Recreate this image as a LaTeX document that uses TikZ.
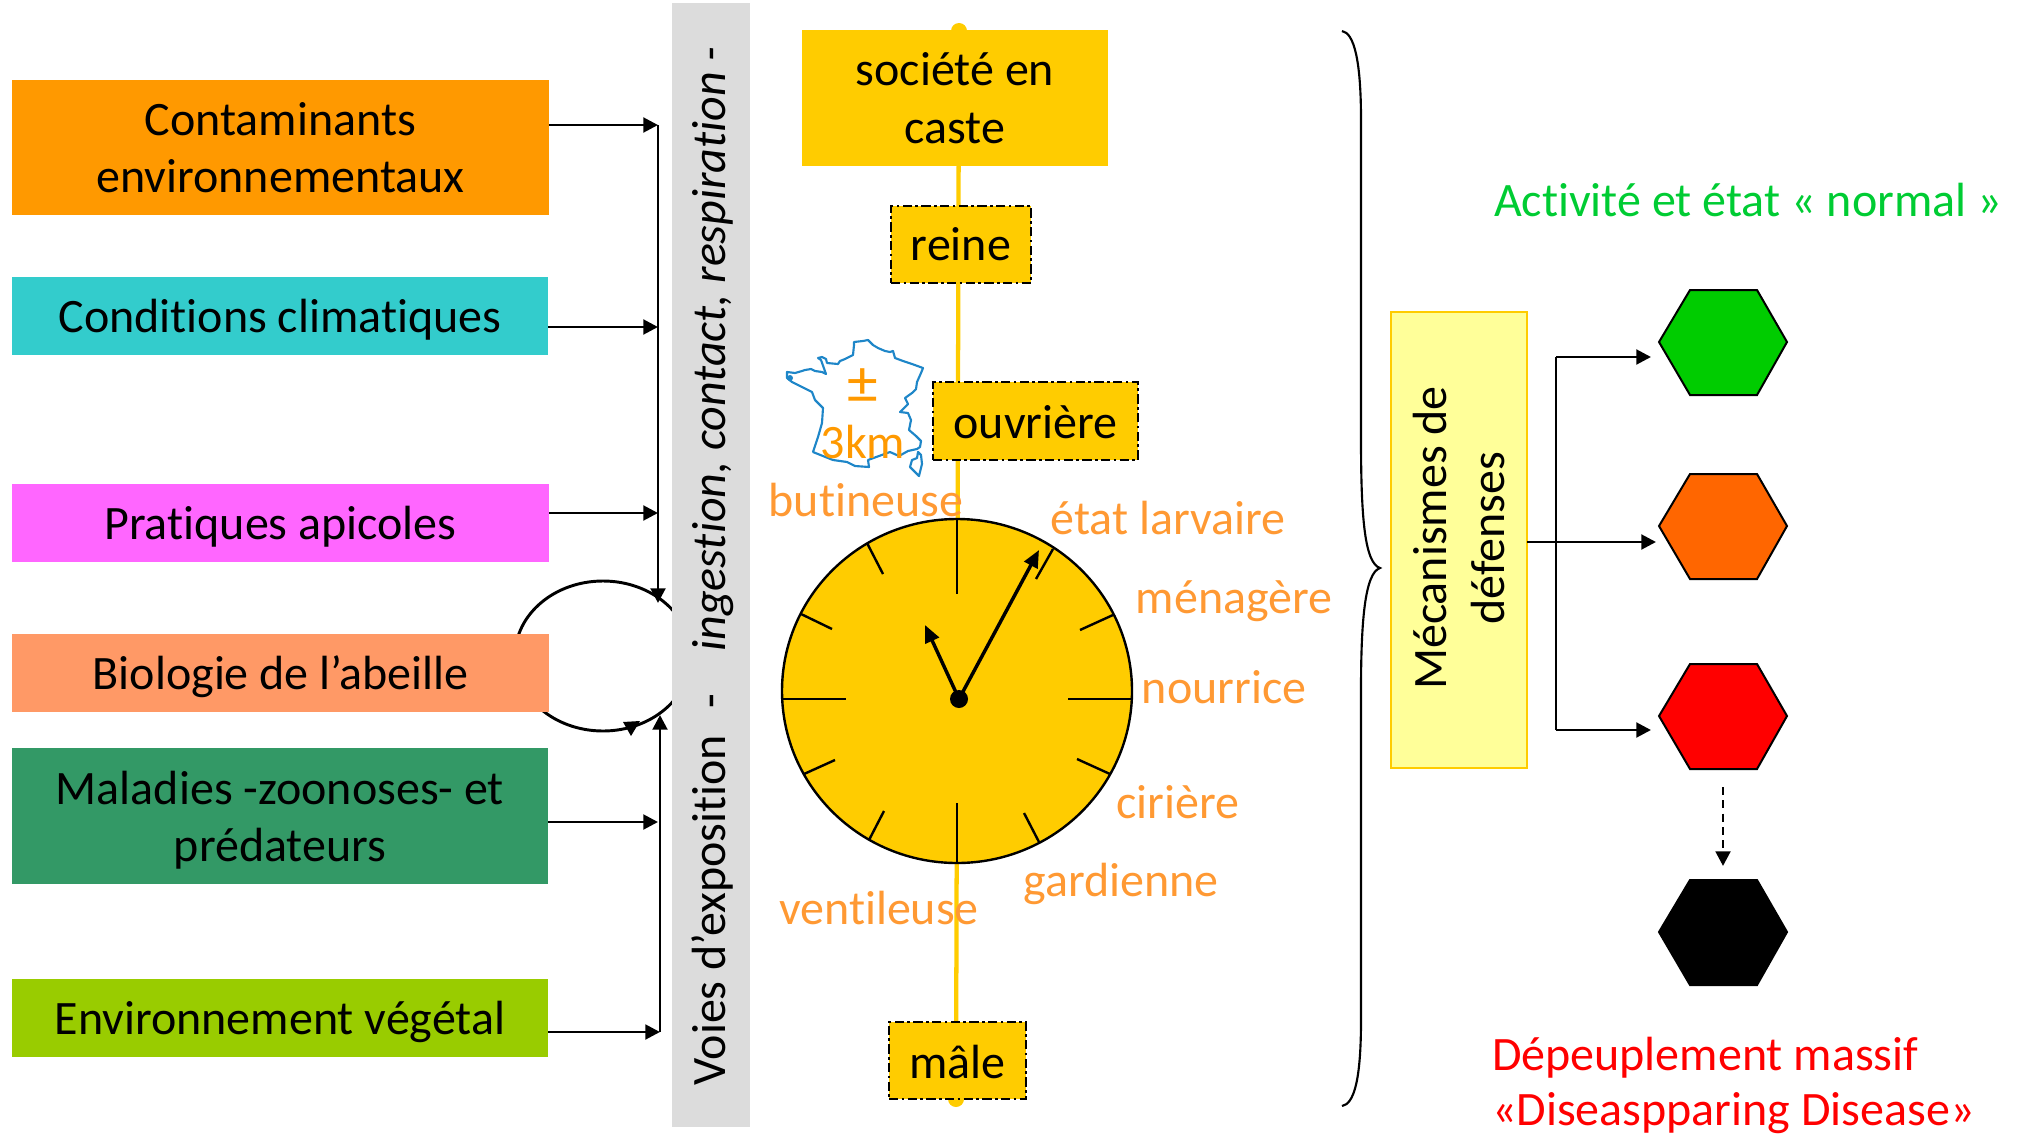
\documentclass[tikz,border=0pt]{standalone}
\usepackage{fontspec}
\setmainfont{Carlito}[RawFeature={-liga;-clig;-dlig}]
\usetikzlibrary{arrows.meta,shapes.geometric}
\definecolor{cOrange}{HTML}{FF9900}
\definecolor{cTeal}{HTML}{33CCCC}
\definecolor{cPink}{HTML}{FF66FF}
\definecolor{cSalmon}{HTML}{FF9966}
\definecolor{cSea}{HTML}{339966}
\definecolor{cLime}{HTML}{99CC00}
\definecolor{cGrey}{HTML}{DCDCDC}
\definecolor{cGold}{HTML}{FFCC00}
\definecolor{cPale}{HTML}{FFFF99}
\definecolor{cLabel}{HTML}{FF9933}
\definecolor{cMap}{HTML}{1E86C8}
\definecolor{cGreenT}{HTML}{00CC33}
\definecolor{cGreenH}{HTML}{00CC00}
\definecolor{cOrangeH}{HTML}{FF6600}
\newcommand{\pxbox}[7]{\node[#2,minimum width={(#5-#3)*0.75pt},minimum height={(#6-#4)*0.75pt}] (#1) at ({(#3+#5)/2},{(#4+#6)/2}) {#7};}
\newcommand{\hexa}[6]{\fill[#2,draw=black,line width=1.5pt,line join=miter] (1659,#4) -- (1690,#3) -- (1757,#3) -- (1787,#4) -- (1757,#5) -- (1690,#5) -- cycle; \coordinate (#1) at (1723,#4);}
\newcommand{\lowstrut}{\rule[-8pt]{0pt}{41pt}}
\newcommand{\smallstrut}{\rule{0pt}{27pt}}
\tikzset{
  x=0.75pt,y=-0.75pt,
  base/.style={font=\fontsize{36}{43}\selectfont,align=center,inner sep=0pt,outer sep=0pt},
  factor/.style={base,text=black},
  castebox/.style={base,fill=cGold},
  dashbox/.style={base,fill=cGold,draw=black,line width=1.6pt,dash pattern=on 7pt off 2.5pt on 2pt off 2.5pt},
  lab/.style={base,text=cLabel},
  arr/.style={line width=2.2pt,-{Triangle[length=11pt,width=11pt]}},
  thinline/.style={line width=2.2pt},
  tick/.style={line width=1.8pt,black},
  hand/.style={line width=2.6pt,-{Triangle[length=13pt,width=11pt]}},
}
\begin{document}
\begin{tikzpicture}
\useasboundingbox (0,0) rectangle (2023,1135);
% feedback ellipse
\draw[line width=2.2pt] (603,656) ellipse [x radius=88,y radius=75];
\fill (623,722) -- (640,721) -- (631,736) -- cycle;
% grey bar
\pxbox{bar}{base,fill=cGrey}{672}{3}{750}{1127}{}
\node[base,rotate=90] (barlabel) at (713,566) {Voies d’exposition\hspace{0.55em}-\hspace{0.88em}{\itshape ingestion, contact, respiration -}};
% left boxes
\pxbox{cont}{factor,fill=cOrange}{12}{80}{549}{215}{Contaminants\\environnementaux}
\pxbox{clim}{factor,fill=cTeal}{12}{277}{548}{355}{\lowstrut Conditions climatiques}
\pxbox{prat}{factor,fill=cPink}{12}{484}{549}{562}{\lowstrut Pratiques apicoles}
\pxbox{bio}{factor,fill=cSalmon}{12}{634}{549}{712}{\lowstrut Biologie de l’abeille}
\pxbox{mal}{factor,fill=cSea}{12}{748}{548}{884}{\rule{0pt}{31pt}Maladies -zoonoses- et\\prédateurs}
\pxbox{env}{factor,fill=cLime}{12}{979}{548}{1057}{\lowstrut Environnement végétal}
% collecting lines
\coordinate (topbus) at (658,125);
\coordinate (topend) at (658,603);
\coordinate (lowbus) at (660,1032);
\coordinate (lowend) at (660,715);
\draw[arr] (topbus) -- (topend);
\draw[arr] (lowbus) -- (lowend);
\draw[arr] (cont.east |- topbus) -- (topbus);
\coordinate (climbus) at (658,327);
\draw[arr] (clim.east |- climbus) -- (climbus);
\coordinate (pratbus) at (658,513);
\draw[arr] (prat.east |- pratbus) -- (pratbus);
\coordinate (malbus) at (658,822);
\draw[arr] (mal.east |- malbus) -- (malbus);
\draw[arr] (env.east |- lowbus) -- (lowbus);
% caste line
\coordinate (linetop) at (959,31);
\coordinate (linebot) at (956,1099);
\fill[cGold] (linetop) circle (8);
\fill[cGold] (linebot) circle (8);
\draw[cGold,line width=3.2pt] (linetop) -- (linebot);
\pxbox{soc}{castebox}{802}{30}{1108}{166}{société en\\caste}
\pxbox{rei}{dashbox}{891}{206}{1031}{283}{reine}
\pxbox{ouv}{dashbox}{933}{382}{1138}{460}{\smallstrut ouvrière}
\pxbox{mak}{dashbox}{889}{1022}{1026}{1099}{\smallstrut mâle}
% France
\draw[cMap,line width=1.6pt,line join=round]
 (787,372) -- (795,373) -- (802,371) -- (805,370) -- (811,369) -- (815,371) -- (822,372) -- (826,374) -- (821,360) -- (818,358) -- (822,357) -- (826,359) -- (827,363) -- (838,364) -- (840,361) -- (845,359) -- (853,355) -- (854,345) -- (854,342) -- (863,341) -- (868,340) -- (873,345) -- (878,348) -- (885,351) -- (890,352) -- (893,351) -- (895,358) -- (903,361) -- (912,364) -- (923,368) -- (921,373) -- (917,382) -- (916,389) -- (912,393) -- (905,398) -- (908,404) -- (900,412) -- (908,413) -- (911,420) -- (909,430) -- (916,436) -- (921,441) -- (920,447) -- (917,449) -- (908,451) -- (899,456) -- (890,452) -- (879,456) -- (868,460) -- (869,467) -- (855,466) -- (847,462) -- (833,460) -- (813,452) -- (818,437) -- (822,423) -- (823,408) -- (815,400) -- (812,392) -- (802,387) -- (792,382) -- (787,378) -- cycle;
\draw[cMap,line width=1.6pt,line join=round] (918,452) -- (921,455) -- (922,464) -- (919,476) -- (915,472) -- (910,467) -- (912,460) -- (917,458) -- cycle;
\fill[cMap] (790,378) circle (3);
% clock
\draw[fill=cGold,line width=1.8pt] (957,691) ellipse [x radius=175,y radius=172];
\coordinate (hub) at (959,699);
\coordinate (longtip) at (1039,550);
\coordinate (shorttip) at (925,625);
\draw[tick] (957,519) -- (957,594);
\draw[tick] (782,699) -- (846,699);
\draw[tick] (1068,699) -- (1132,699);
\draw[tick] (957,803) -- (957,863);
\draw[tick] (867,543) -- (883,574);
\draw[tick] (801,614) -- (832,629);
\draw[tick] (804,774) -- (835,760);
\draw[tick] (869,840) -- (884,811);
\draw[tick] (1039,842) -- (1024,813);
\draw[tick] (1110,774) -- (1077,759);
\draw[tick] (1113,615) -- (1080,630);
\draw[tick] (1053,549) -- (1036,579);
\draw[hand] (hub) -- (longtip);
\draw[hand] (hub) -- (shorttip);
\fill (hub) circle (9);
% labels
\node[base,font=\fontsize{46}{46}\selectfont,text=cOrange] (plusminus) at (863,386) {±};
\node[base,text=cOrange] (km) at (863,442) {3km};
\node[lab] (but) at (866,500) {butineuse};
\node[lab] (eta) at (1168,518) {état larvaire};
\node[lab] (men) at (1234,601) {ménagère};
\node[lab] (nou) at (1224,687) {nourrice};
\node[lab] (cir) at (1178,802) {cirière};
\node[lab] (gar) at (1121,884) {gardienne};
\node[lab] (ven) at (879,908) {ventileuse};
% brace
\coordinate (bracetop) at (1342,31);
\coordinate (bracebot) at (1342,1106);
\coordinate (bracetip) at (1380,568);
\draw[line width=1.6pt] (bracetop) .. controls (1354,33) and (1361,60) .. (1361,120) -- (1361,440) .. controls (1361,520) and (1365,563) .. (bracetip) .. controls (1365,573) and (1361,620) .. (1361,690) -- (1361,1020) .. controls (1361,1080) and (1354,1104) .. (bracebot);
% defence box
\pxbox{def}{base,fill=cPale,draw=cGold,line width=1.8pt}{1391}{312}{1527}{768}{}
\node[base,rotate=90] (deftext) at (1459,538) {Mécanismes de\\défenses};
% hexagons
\hexa{hg}{cGreenH}{290}{342}{395}{}
\hexa{ho}{cOrangeH}{474}{526}{579}{}
\hexa{hr}{red}{664}{716}{769}{}
\hexa{hb}{black}{880}{932}{985}{}
% arrows right
\coordinate (branchtop) at (1556,357);
\coordinate (branchbot) at (1556,730);
\coordinate (greentip) at (1651,357);
\coordinate (redtip) at (1651,730);
\coordinate (orangetip) at (1656,542);
\coordinate (defout) at (def.east |- orangetip);
\coordinate (dashstart) at (1723,787);
\coordinate (dashend) at (1723,866);
\draw[thinline] (branchbot) -- (branchtop);
\draw[arr] (branchtop) -- (greentip);
\draw[arr] (branchbot) -- (redtip);
\draw[arr] (defout) -- (orangetip);
\draw[line width=2.2pt,dash pattern=on 6pt off 4pt,-{Triangle[length=11pt,width=11pt]}] (dashstart) -- (dashend);
% status texts
\node[base,text=cGreenT,anchor=west] (normal) at (1494,200) {Activité et état « normal »};
\node[base,text=red,anchor=west] (dep1) at (1492,1058) {Dépeuplement massif};
\node[base,text=red,anchor=west] (dep2) at (1492,1113) {«Diseaspparing Disease»};
\end{tikzpicture}
\end{document}
